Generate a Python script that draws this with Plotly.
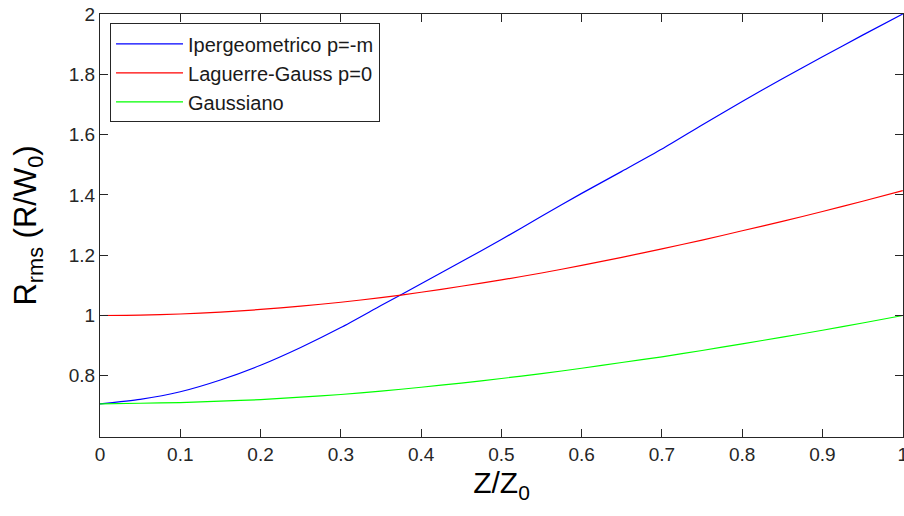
import plotly.graph_objects as go

z = [0.0, 0.05, 0.1, 0.15, 0.2, 0.25, 0.3, 0.35, 0.4, 0.45, 0.5,
     0.55, 0.6, 0.65, 0.7, 0.75, 0.8, 0.85, 0.9, 0.95, 1.0]

ipergeometrico = [0.707, 0.722, 0.747, 0.786, 0.835, 0.894, 0.960, 1.033, 1.105, 1.178, 1.252,
                  1.329, 1.405, 1.478, 1.552, 1.632, 1.710, 1.785, 1.858, 1.930, 2.000]
laguerre_gauss = [1.000, 1.001, 1.005, 1.011, 1.020, 1.031, 1.044, 1.059, 1.077, 1.097, 1.118,
                  1.141, 1.166, 1.193, 1.221, 1.250, 1.281, 1.312, 1.345, 1.379, 1.414]
gaussiano = [0.707, 0.709, 0.711, 0.716, 0.721, 0.729, 0.738, 0.749, 0.762, 0.776, 0.791,
             0.807, 0.825, 0.844, 0.863, 0.884, 0.906, 0.928, 0.951, 0.975, 1.000]

names = ["Ipergeometrico p=-m", "Laguerre-Gauss p=0", "Gaussiano"]
colors = ["#0000ff", "#ff0000", "#00ff00"]

x_ticks = [0, 0.1, 0.2, 0.3, 0.4, 0.5, 0.6, 0.7, 0.8, 0.9, 1.0]
x_tick_labels = ["0", "0.1", "0.2", "0.3", "0.4", "0.5", "0.6", "0.7", "0.8", "0.9", "1"]
y_ticks = [0.8, 1.0, 1.2, 1.4, 1.6, 1.8, 2.0]
y_tick_labels = ["0.8", "1", "1.2", "1.4", "1.6", "1.8", "2"]

FONT = "Liberation Sans, Arial, Helvetica, sans-serif"
AXC = "#262626"

fig = go.Figure()
for name, ys, col in zip(names, [ipergeometrico, laguerre_gauss, gaussiano], colors):
    fig.add_trace(go.Scatter(x=z, y=ys, mode="lines", name=name, legendgroup=name,
                             line=dict(color=col, width=1.2, shape="spline", smoothing=0.6)))

axis_common = dict(showgrid=False, zeroline=False, showline=True, linecolor=AXC, linewidth=1,
                   mirror="allticks", ticks="inside", ticklen=8, tickcolor=AXC, tickwidth=1,
                   ticklabeloverflow="allow", automargin=False,
                   tickfont=dict(family=FONT, size=19, color=AXC))

fig.update_layout(
    width=904, height=516,
    margin=dict(l=100, r=1, t=14, b=79, autoexpand=False),
    paper_bgcolor="white", plot_bgcolor="white",
    showlegend=True,
    legend=dict(x=0.0125, y=0.978, xanchor="left", yanchor="top",
                bordercolor="#262626", borderwidth=1, bgcolor="white",
                font=dict(family=FONT, size=20, color="#1a1a1a"),
                itemwidth=67,
                tracegroupgap=1, traceorder="normal"),
    xaxis=dict(range=[0, 1.0003], tickvals=x_ticks, ticktext=x_tick_labels,
               title=dict(text="Z/Z<sub>0</sub>", font=dict(family=FONT, size=30, color="#000"), standoff=8),
               **axis_common),
    yaxis=dict(range=[0.597, 2.0], tickvals=y_ticks, ticktext=y_tick_labels,
               title=dict(text="R<sub>rms</sub> (R/W<sub>0</sub>)", font=dict(family=FONT, size=31, color="#000"), standoff=22),
               **axis_common),
)

fig.write_html("out.html")
